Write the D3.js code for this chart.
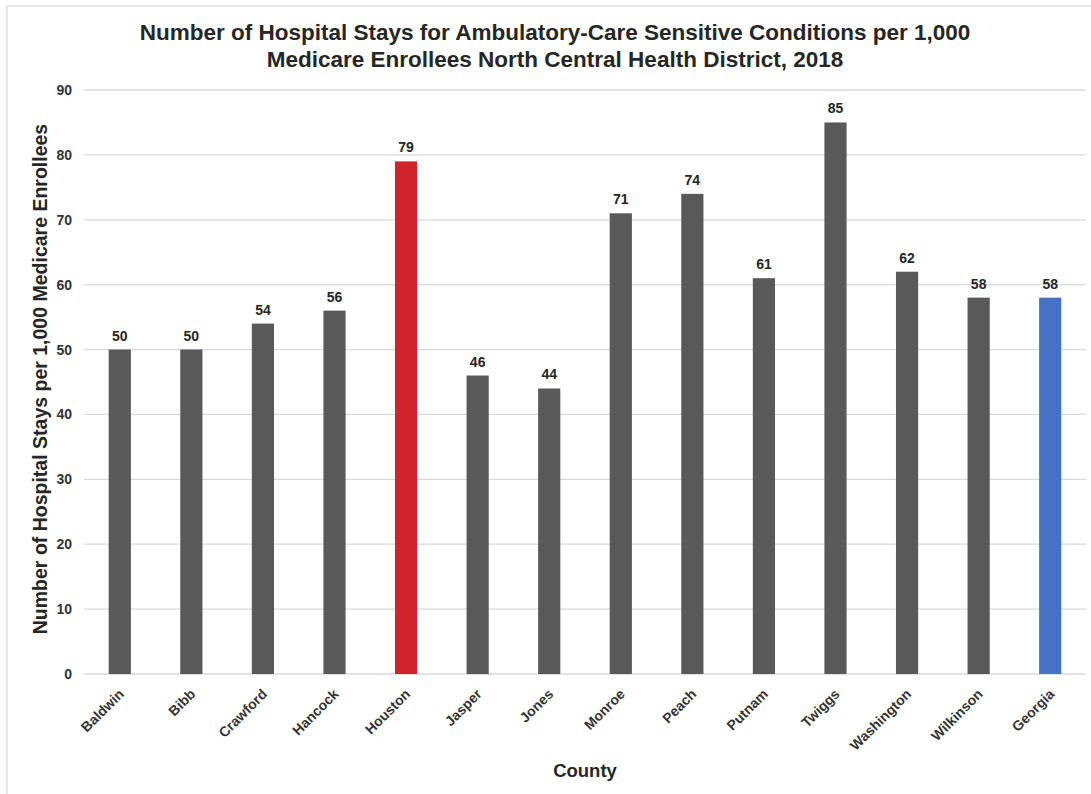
<!DOCTYPE html>
<html>
<head>
<meta charset="utf-8">
<script src="https://cdn.jsdelivr.net/npm/d3@7"></script>
<style>
  html, body { margin: 0; padding: 0; background: #fff; }
  svg { display: block; }
  text { font-family: "Liberation Sans", Arial, sans-serif; }
</style>
</head>
<body>
<svg id="chart" width="1091" height="794"></svg>
<script>
// Hospital stays for ambulatory-care sensitive conditions, 2018
const counties = ["Baldwin", "Bibb", "Crawford", "Hancock", "Houston", "Jasper", "Jones",
                  "Monroe", "Peach", "Putnam", "Twiggs", "Washington", "Wilkinson", "Georgia"];
const stays = [50, 50, 54, 56, 79, 46, 44, 71, 74, 61, 85, 62, 58, 58];
const yTicks = [0, 10, 20, 30, 40, 50, 60, 70, 80, 90];
const titleLines = ["Number of Hospital Stays for Ambulatory-Care Sensitive Conditions per 1,000",
                    "Medicare Enrollees North Central Health District, 2018"];

const colorFor = name => name === "Houston" ? "#d0232b" : name === "Georgia" ? "#4472c4" : "#595959";

const svg = d3.select("#chart");
const W = 1091, H = 794;
const m = { left: 84, right: 5, top: 90, bottom: 120 };
const plotW = W - m.left - m.right, plotH = H - m.top - m.bottom;

// outer frame
svg.append("rect").attr("x", 7).attr("y", 6).attr("width", W + 10).attr("height", H + 10)
  .attr("fill", "#fff").attr("stroke", "#d9d9d9").attr("stroke-width", 1.3);

const x = d3.scaleBand().domain(counties).range([0, plotW]).paddingInner(0.69).paddingOuter(0.345);
const y = d3.scaleLinear().domain([0, 90]).range([plotH, 0]);

const g = svg.append("g").attr("transform", `translate(${m.left},${m.top})`);

// gridlines
g.append("g").selectAll("line").data(yTicks).join("line")
  .attr("x1", 0).attr("x2", plotW)
  .attr("y1", d => y(d)).attr("y2", d => y(d))
  .attr("stroke", "#d9d9d9").attr("stroke-width", 1.3);

// y axis labels
const yAxis = g.append("g").call(d3.axisLeft(y).tickValues(yTicks).tickSize(0).tickPadding(12));
yAxis.attr("font-size", null).attr("font-family", null);
yAxis.select(".domain").remove();
yAxis.selectAll("text")
  .style("font-size", "14px").style("font-weight", "bold").attr("fill", "#333")
  .style("font-family", "Liberation Sans, Arial, sans-serif");

// bars
g.append("g").selectAll("rect").data(counties).join("rect")
  .attr("x", d => x(d)).attr("width", x.bandwidth())
  .attr("y", (d, i) => y(stays[i])).attr("height", (d, i) => y(0) - y(stays[i]))
  .attr("fill", d => colorFor(d));

// value labels
g.append("g").selectAll("text").data(counties).join("text")
  .attr("x", d => x(d) + x.bandwidth() / 2)
  .attr("y", (d, i) => y(stays[i]) - 9)
  .attr("text-anchor", "middle")
  .style("font-size", "14px").style("font-weight", "bold").attr("fill", "#262626")
  .text((d, i) => stays[i]);

// x axis labels
const xAxis = g.append("g").attr("transform", `translate(0,${plotH})`)
  .call(d3.axisBottom(x).tickSize(0).tickPadding(0));
xAxis.attr("font-size", null).attr("font-family", null);
xAxis.select(".domain").remove();
xAxis.selectAll("text")
  .style("font-size", "14px").style("font-weight", "bold").attr("fill", "#333")
  .style("font-family", "Liberation Sans, Arial, sans-serif")
  .attr("text-anchor", "end")
  .attr("dy", null)
  .attr("transform", "translate(5,21) rotate(-45)");

// titles
svg.append("g").selectAll("text").data(titleLines).join("text")
  .attr("x", 555).attr("y", (d, i) => 40 + i * 27)
  .attr("text-anchor", "middle")
  .style("font-size", "22.5px").style("font-weight", "bold").attr("fill", "#262626")
  .text(d => d);

svg.append("text")
  .attr("transform", `translate(47,${m.top + plotH / 2 - 3}) rotate(-90)`)
  .attr("text-anchor", "middle")
  .style("font-size", "19.5px").style("font-weight", "bold").attr("fill", "#262626")
  .text("Number of Hospital Stays per 1,000 Medicare Enrollees");

svg.append("text")
  .attr("x", 585).attr("y", 777)
  .attr("text-anchor", "middle")
  .style("font-size", "18.5px").style("font-weight", "bold").attr("fill", "#262626")
  .text("County");
</script>
</body>
</html>
